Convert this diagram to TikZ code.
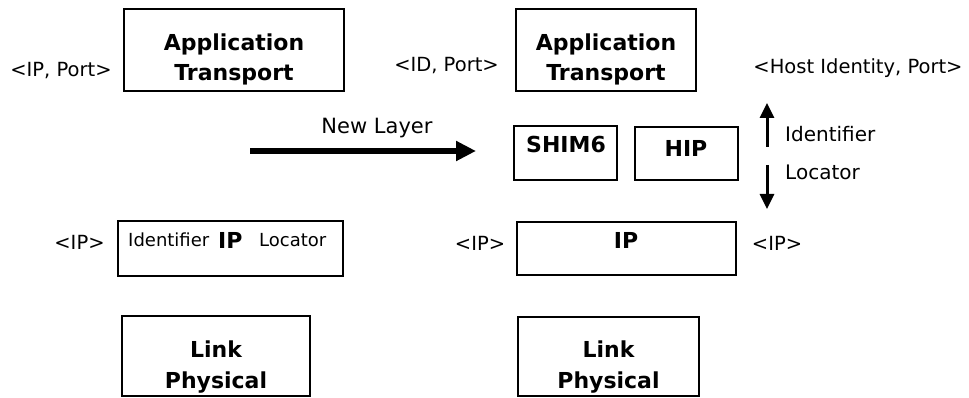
\documentclass[tikz,border=0pt]{standalone}
\usepackage{fontspec}
\setmainfont{DejaVu Sans}
\usetikzlibrary{arrows.meta}
\tikzset{
  layer/.style={draw, line width=2.8pt, inner sep=0pt},
  title/.style={font=\fontsize{22}{26}\selectfont\bfseries, anchor=base, inner sep=0pt},
  tag/.style={font=\fontsize{19.5}{23}\selectfont, anchor=base, inner sep=0pt},
  small/.style={font=\fontsize{18}{22}\selectfont, anchor=base west, inner sep=0pt},
  side/.style={font=\fontsize{20}{24}\selectfont, anchor=base west, inner sep=0pt},
  bigarrow/.style={line width=5.5pt, -{Triangle[length=20pt,width=19pt]}},
  idarrow/.style={line width=3pt, -{Triangle[length=15pt,width=14pt]}},
}
\begin{document}
\begin{tikzpicture}[x=1pt, y=-1pt]
\useasboundingbox (0,0) rectangle (969,398);

% left stack
\node[layer, minimum width=220pt, minimum height=82pt] (appL) at (234,50) {};
\node[title] (appLa) at (234,51) {Application};
\node[title] (appLb) at (234,81) {Transport};
\node[tag] (portL) at (61,77) {<IP, Port>};

\node[layer, minimum width=225pt, minimum height=55pt] (ipL) at (230.5,248.5) {};
\node[small] (ipLid) at (128,247) {Identifier};
\node[title, anchor=base west] (ipLip) at (218,248) {IP};
\node[small] (ipLloc) at (259,247) {Locator};
\node[tag] (ipLtag) at (79.5,249) {<IP>};

\node[layer, minimum width=188pt, minimum height=80pt] (linkL) at (216,356) {};
\node[title] (linkLa) at (216,357) {Link};
\node[title] (linkLb) at (216,388) {Physical};

% transition
\coordinate (nlA) at (250,151);
\coordinate (nlB) at (476,151);
\draw[bigarrow] (nlA) -- (nlB);
\node[tag, font=\fontsize{21}{25}\selectfont] (nl) at (377,134) {New Layer};

% right stack
\node[layer, minimum width=180pt, minimum height=82pt] (appR) at (606,50) {};
\node[title] (appRa) at (606,51) {Application};
\node[title] (appRb) at (606,81) {Transport};
\node[tag] (portR1) at (446.5,72) {<ID, Port>};
\node[tag] (portR2) at (858,74) {<Host Identity, Port>};

\node[layer, minimum width=103pt, minimum height=54pt] (shim) at (565.5,153) {};
\node[title] (shimt) at (566,153) {SHIM6};
\node[layer, minimum width=103pt, minimum height=53pt] (hip) at (686.5,153.5) {};
\node[title] (hipt) at (686,157) {HIP};

\coordinate (upA) at (767,147);
\coordinate (upB) at (767,103);
\coordinate (dnA) at (767,165);
\coordinate (dnB) at (767,209);
\draw[idarrow] (upA) -- (upB);
\draw[idarrow] (dnA) -- (dnB);
\node[side] (idt) at (785,142) {Identifier};
\node[side] (loct) at (785,180) {Locator};

\node[layer, minimum width=219pt, minimum height=53pt] (ipR) at (626.5,248.5) {};
\node[title] (ipRt) at (626,248) {IP};
\node[tag] (ipRl) at (480,251) {<IP>};
\node[tag] (ipRr) at (777,251) {<IP>};

\node[layer, minimum width=181pt, minimum height=79pt] (linkR) at (608.5,356.5) {};
\node[title] (linkRa) at (608.5,357) {Link};
\node[title] (linkRb) at (608.5,388) {Physical};
\end{tikzpicture}
\end{document}
